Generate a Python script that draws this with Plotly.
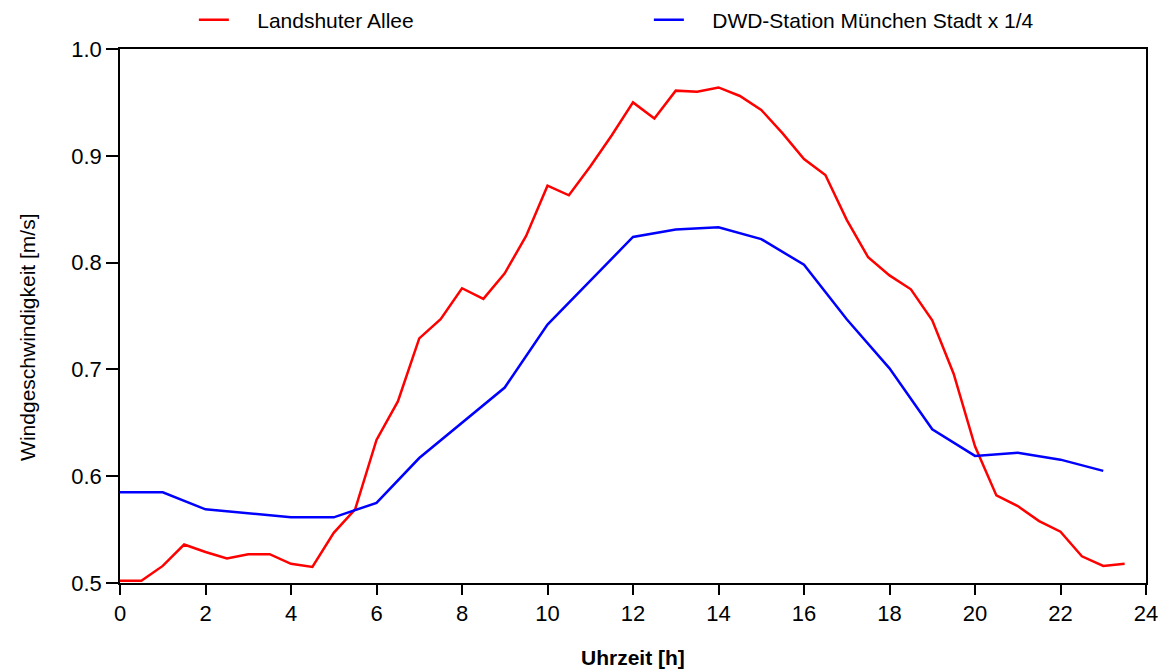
import plotly.graph_objects as go

hours_red = [i * 0.5 for i in range(48)]
landshuter = [0.502, 0.502, 0.516, 0.536, 0.529, 0.523, 0.527, 0.527, 0.518, 0.515,
              0.547, 0.569, 0.634, 0.670, 0.729, 0.747, 0.776, 0.766, 0.790, 0.825,
              0.872, 0.863, 0.890, 0.919, 0.950, 0.935, 0.961, 0.960, 0.964, 0.956,
              0.943, 0.921, 0.897, 0.882, 0.840, 0.805, 0.788, 0.775, 0.746, 0.696,
              0.628, 0.582, 0.572, 0.558, 0.548, 0.525, 0.516, 0.518]

hours_blue = list(range(24))
dwd = [0.585, 0.585, 0.569, 0.565, 0.5615, 0.5615, 0.575, 0.617, 0.650, 0.683,
       0.742, 0.783, 0.824, 0.831, 0.833, 0.822, 0.798, 0.747, 0.701, 0.644,
       0.619, 0.622, 0.6155, 0.605]

x_ticks = list(range(0, 25, 2))
y_ticks = [0.5, 0.6, 0.7, 0.8, 0.9, 1.0]

font = "Liberation Sans, Arial, sans-serif"
sp = "\u00a0\u00a0\u00a0\u00a0"

fig = go.Figure()
fig.add_trace(go.Scatter(x=hours_red, y=landshuter, mode="lines",
                         name=sp + "Landshuter Allee",
                         line=dict(color="#FF0000", width=2.5)))
fig.add_trace(go.Scatter(x=hours_blue, y=dwd, mode="lines",
                         name=sp + "DWD-Station München Stadt x 1/4",
                         line=dict(color="#0000FF", width=2.5)))

fig.update_layout(
    width=1164, height=672,
    margin=dict(l=120, r=18, t=49, b=89),
    paper_bgcolor="white", plot_bgcolor="white",
    font=dict(family=font, size=22, color="black"),
    showlegend=True,
    legend=dict(orientation="h", x=0.072, xanchor="left", xref="paper",
                y=0.970, yanchor="middle", yref="container",
                font=dict(size=21), entrywidth=410, entrywidthmode="pixels",
                bgcolor="rgba(0,0,0,0)"),
    xaxis=dict(range=[0, 24], tickvals=x_ticks, ticktext=[str(v) for v in x_ticks],
               showgrid=False, zeroline=False, showline=True, linecolor="black",
               linewidth=1.5, mirror=True, ticks="outside", ticklen=10,
               tickcolor="black", tickwidth=1.5, automargin=False),
    yaxis=dict(range=[0.5, 1.0], tickvals=y_ticks, ticktext=[f"{v:.1f}" for v in y_ticks],
               showgrid=False, zeroline=False, showline=True, linecolor="black",
               linewidth=1.5, mirror=True, ticks="outside", ticklen=12,
               tickcolor="black", tickwidth=1.5, automargin=False),
    annotations=[
        dict(text="<b>Uhrzeit [h]</b>", x=0.5, xref="paper",
             y=-(657 - 583) / 534, yref="paper", yanchor="middle",
             showarrow=False, font=dict(size=21)),
        dict(text="Windgeschwindigkeit [m/s]", x=-(120 - 28) / 1026, xref="paper",
             xanchor="center", y=0.459, yref="paper",
             showarrow=False, textangle=-90, font=dict(size=21)),
    ],
)

fig.write_html("out.html", config={"displayModeBar": False},
               post_script="document.body.style.margin='0';document.body.style.padding='0';")
